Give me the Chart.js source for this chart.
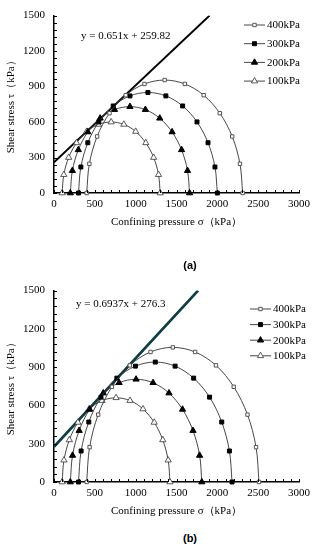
<!DOCTYPE html>
<html>
<head>
<meta charset="utf-8">
<script src="https://cdn.jsdelivr.net/npm/chart.js@4.4.1/dist/chart.umd.min.js"></script>
<style>
body { margin: 0; background: #fff; width: 315px; height: 550px; position: relative; overflow: hidden; font-family: "Liberation Serif", serif; }
canvas { position: absolute; left: 0; }
#chartA { top: 0; }
#chartB { top: 275px; }
.eq { position: absolute; font-size: 11px; white-space: nowrap; color: #000; }
.cap { position: absolute; font-family: "Liberation Sans", sans-serif; font-size: 11px; font-weight: bold; transform: translateX(-50%); }
</style>
</head>
<body>
<canvas id="chartA" width="315" height="240"></canvas>
<canvas id="chartB" width="315" height="254"></canvas>
<div class="eq" style="left:81px;top:29px">y = 0.651x + 259.82</div>
<div class="eq" style="left:76px;top:297px">y = 0.6937x + 276.3</div>
<div class="cap" style="left:190px;top:259px">(a)</div>
<div class="cap" style="left:190px;top:532px">(b)</div>
<script>
// DATA
const seriesNames = ['400kPa', '300kPa', '200kPa', '100kPa'];
const xTicks = [0, 500, 1000, 1500, 2000, 2500, 3000];
const yTicks = [0, 300, 600, 900, 1200, 1500];

// (a) Mohr circles, sigma (x) and tau (y) at the plotted markers
const a400x = [2310, 2277, 2182, 2030, 1833, 1602, 1355, 1108, 878, 680, 528, 433, 400];
const a400y = [0, 247, 478, 675, 827, 922, 955, 922, 827, 675, 478, 247, 0];
const a300x = [2000, 1971, 1886, 1751, 1575, 1370, 1150, 930, 725, 549, 414, 329, 300];
const a300y = [0, 220, 425, 601, 736, 821, 850, 821, 736, 601, 425, 220, 0];
const a200x = [1660, 1635, 1562, 1446, 1295, 1119, 930, 741, 565, 414, 298, 225, 200];
const a200y = [0, 189, 365, 516, 632, 705, 730, 705, 632, 516, 365, 189, 0];
const a100x = [1300, 1280, 1220, 1124, 1000, 855, 700, 545, 400, 276, 180, 120, 100];
const a100y = [0, 155, 300, 424, 520, 580, 600, 580, 520, 424, 300, 155, 0];
const aFitX = [0, 1905];
const aFitY = [259.82, 1500];

// (b)
const b400x = [2510, 2474, 2369, 2201, 1983, 1728, 1455, 1182, 928, 709, 541, 436, 400];
const b400y = [0, 273, 528, 746, 914, 1019, 1055, 1019, 914, 746, 528, 273, 0];
const b300x = [2180, 2148, 2054, 1905, 1710, 1483, 1240, 997, 770, 575, 426, 332, 300];
const b300y = [0, 243, 470, 665, 814, 908, 940, 908, 814, 665, 470, 243, 0];
const b200x = [1810, 1783, 1702, 1574, 1408, 1213, 1005, 797, 603, 436, 308, 227, 200];
const b200y = [0, 208, 403, 569, 697, 778, 805, 778, 697, 569, 403, 208, 0];
const b100x = [1420, 1398, 1332, 1227, 1090, 931, 760, 589, 430, 293, 188, 122, 100];
const b100y = [0, 171, 330, 467, 572, 638, 660, 638, 572, 467, 330, 171, 0];
const bFitX = [0, 1764];
const bFitY = [276.3, 1500];

Chart.defaults.font.family = "'Liberation Serif', 'Times New Roman', serif";
Chart.defaults.font.size = 11;
Chart.defaults.color = '#000';

const markers = [
    { pointStyle: 'rect', pointRadius: 2.4, pointBackgroundColor: '#fff', pointBorderColor: '#555', pointBorderWidth: 1 },
    { pointStyle: 'rect', pointRadius: 2.8, pointBackgroundColor: '#000', pointBorderColor: '#000', pointBorderWidth: 1 },
    { pointStyle: 'triangle', pointRadius: 3.6, pointBackgroundColor: '#000', pointBorderColor: '#000', pointBorderWidth: 1 },
    { pointStyle: 'triangle', pointRadius: 3.6, pointBackgroundColor: '#fff', pointBorderColor: '#333', pointBorderWidth: 0.8 }
];

function pts(xs, ys) {
    return xs.map((x, i) => ({ x: x, y: ys[i] }));
}

// small ticks pointing into the plot
const innerTicks = {
    id: 'innerTicks',
    afterDraw(chart, args, opts) {
        const { ctx, chartArea: a, scales: { x, y } } = chart;
        ctx.save();
        ctx.strokeStyle = '#000';
        ctx.lineWidth = 1;
        ctx.beginPath();
        for (let v = x.min; v <= x.max; v += opts.xStep) {
            const px = Math.round(x.getPixelForValue(v)) + 0.5;
            ctx.moveTo(px, a.bottom);
            ctx.lineTo(px, a.bottom - 3);
        }
        for (let v = y.min; v <= y.max; v += opts.yStep) {
            const py = Math.round(y.getPixelForValue(v)) + 0.5;
            ctx.moveTo(a.left, py);
            ctx.lineTo(a.left + 3, py);
        }
        ctx.stroke();
        ctx.restore();
    }
};

// legend with a short line and the marker on it
const lineLegend = {
    id: 'lineLegend',
    afterDraw(chart, args, opts) {
        const ctx = chart.ctx;
        ctx.save();
        let k = 0;
        chart.data.datasets.forEach(ds => {
            if (!ds.legend) return;
            const y = opts.y + k * opts.gap;
            k++;
            ctx.strokeStyle = ds.borderColor;
            ctx.lineWidth = ds.borderWidth;
            ctx.beginPath();
            ctx.moveTo(opts.x, y);
            ctx.lineTo(opts.x + 21, y);
            ctx.stroke();
            ctx.fillStyle = ds.pointBackgroundColor;
            ctx.strokeStyle = ds.pointBorderColor;
            ctx.lineWidth = ds.pointBorderWidth;
            Chart.helpers.drawPoint(ctx, { pointStyle: ds.pointStyle, radius: ds.pointRadius, rotation: 0, borderWidth: ds.pointBorderWidth }, opts.x + 10.5, y);
            ctx.fillStyle = '#000';
            ctx.font = "11px 'Liberation Serif', serif";
            ctx.textBaseline = 'middle';
            ctx.fillText(ds.label, opts.x + 23, y + 0.5);
        });
        ctx.restore();
    }
};

function makeChart(id, circles, fitX, fitY, fitLines, legendPos) {
    const datasets = [];
    circles.forEach((c, i) => {
        datasets.push(Object.assign({
            label: seriesNames[i],
            legend: true,
            data: pts(c[0], c[1]),
            showLine: true,
            tension: 0.34,
            borderColor: '#333',
            borderWidth: 0.9,
            clip: false,
            order: 1
        }, markers[i]));
    });
    fitLines.forEach(f => {
        datasets.push({
            data: pts(fitX, fitY),
            showLine: true,
            pointRadius: 0,
            borderColor: f.color,
            borderWidth: f.width,
            order: 2
        });
    });

    return new Chart(document.getElementById(id), {
        type: 'scatter',
        data: { datasets: datasets },
        options: {
            responsive: false,
            animation: false,
            layout: { padding: { top: 10, right: 14, left: 0, bottom: 0 } },
            plugins: {
                legend: { display: false },
                tooltip: { enabled: false },
                innerTicks: { xStep: 100, yStep: 60 },
                lineLegend: legendPos
            },
            scales: {
                x: {
                    type: 'linear',
                    min: 0,
                    max: 3000,
                    afterBuildTicks: s => { s.ticks = xTicks.map(v => ({ value: v })); },
                    afterFit: s => { s.height = 47; },
                    ticks: { padding: 5, maxRotation: 0, color: '#000', callback: v => String(v) },
                    grid: { display: true, drawOnChartArea: false, drawTicks: false, color: '#000' },
                    border: { color: '#000', width: 1.5 },
                    title: { display: true, text: 'Confining pressure σ（kPa）', color: '#000', padding: { top: 11, bottom: 11 }, font: { size: 11 } }
                },
                y: {
                    type: 'linear',
                    min: 0,
                    max: 1500,
                    afterBuildTicks: s => { s.ticks = yTicks.map(v => ({ value: v })); },
                    afterFit: s => { s.width = 54; },
                    ticks: { padding: 9, color: '#000', callback: v => String(v) },
                    grid: { display: true, drawOnChartArea: false, drawTicks: false, color: '#000' },
                    border: { color: '#000', width: 1.5 },
                    title: { display: true, text: 'Shear stress τ（kPa）', color: '#000', padding: { top: 5, bottom: 5 }, font: { size: 11 } }
                }
            }
        },
        plugins: [innerTicks, lineLegend]
    });
}

makeChart('chartA',
    [[a400x, a400y], [a300x, a300y], [a200x, a200y], [a100x, a100y]],
    aFitX, aFitY,
    [{ color: '#000', width: 2 }],
    { x: 244, y: 25, gap: 18.7 });

makeChart('chartB',
    [[b400x, b400y], [b300x, b300y], [b200x, b200y], [b100x, b100y]],
    bFitX, bFitY,
    [{ color: '#123c44', width: 2.6 }, { color: '#10b8d4', width: 2 }],
    { x: 250, y: 34, gap: 15.6 });
</script>
</body>
</html>
